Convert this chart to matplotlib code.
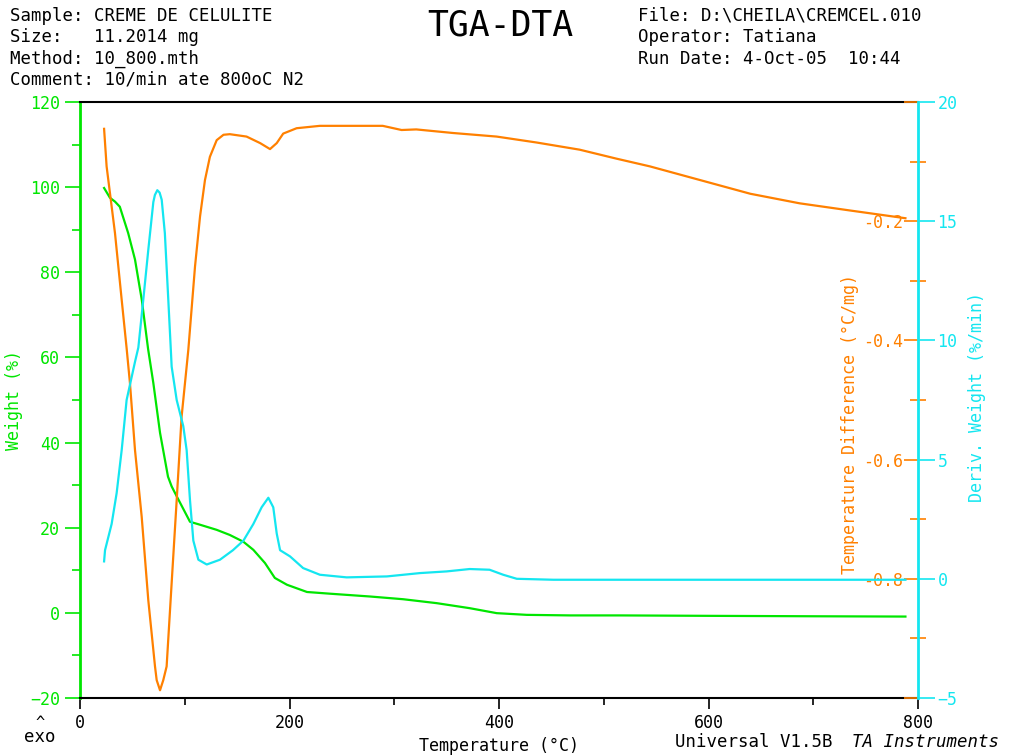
import matplotlib
matplotlib.use('Agg')
import matplotlib.pyplot as plt
from matplotlib.ticker import MultipleLocator

# kolory kanalow
GREEN = '#00e600'
ORANGE = '#ff8000'
CYAN = '#14e6f0'

# --- dane ---
weight_temp = [23, 28.6, 33.4, 38, 46, 52.5, 59, 65, 70, 76.4, 84, 87.5, 92.5, 105, 114.6,
               130.5, 143, 156, 165.5, 176.6, 186, 197.6, 216.7, 238.7, 277, 308.6, 340.5,
               372, 397.8, 426.5, 468, 515.5, 600, 700, 788]
weight_pct = [99.8, 97.5, 96.6, 95.4, 89.2, 83, 73.5, 62, 54, 42.3, 32, 29.7, 27.3, 21.4, 20.7,
              19.5, 18.3, 16.7, 14.8, 11.7, 8.2, 6.6, 4.9, 4.5, 3.84, 3.2, 2.28,
              1.1, -0.07, -0.47, -0.6, -0.6, -0.7, -0.8, -0.87]

dta_temp = [23, 25.4, 33.4, 39.8, 44.5, 47.7, 52.5, 58.9, 65.2, 71.6, 73.2, 76.4, 79.5,
            82.7, 87.5, 92.3, 97, 103.4, 109.8, 114.6, 119.3, 124, 130.5, 137, 143, 159,
            172, 181.4, 187.8, 194, 206.8, 229, 267, 289, 307, 321, 356, 397.7, 436,
            477, 512, 544, 592, 640, 687, 735, 788]
dta_diff = [-0.045, -0.108, -0.22, -0.332, -0.413, -0.472, -0.584, -0.696, -0.836, -0.947,
            -0.970, -0.987, -0.970, -0.947, -0.807, -0.668, -0.528, -0.416, -0.276, -0.192,
            -0.131, -0.092, -0.064, -0.055, -0.054, -0.058, -0.069, -0.079, -0.069, -0.053,
            -0.044, -0.040, -0.040, -0.040, -0.047, -0.046, -0.052, -0.058, -0.068, -0.080,
            -0.095, -0.108, -0.131, -0.154, -0.170, -0.182, -0.195]

dtg_temp = [23, 23.9, 30.2, 35, 39.8, 44.5, 52.5, 55.7, 60.4, 65.2, 70, 71.5, 73.8, 76,
            78, 81, 84.3, 86.6, 87.5, 92.3, 98.6, 101.8, 105, 108.2, 113, 121, 133.6,
            146, 156, 165.5, 173.4, 179.8, 184.5, 187.8, 191, 200.5, 213, 229, 254.6,
            293, 324.6, 350, 372, 391, 404, 417, 452, 515, 650, 788]
dtg_val = [0.73, 1.2, 2.3, 3.6, 5.4, 7.5, 9.1, 9.7, 11.7, 13.8, 15.8, 16.1, 16.3, 16.2,
           15.9, 14.5, 11.7, 9.7, 8.9, 7.5, 6.4, 5.4, 3.3, 1.6, 0.8, 0.6, 0.8,
           1.2, 1.6, 2.3, 3.0, 3.4, 3.0, 1.9, 1.2, 0.94, 0.45, 0.17, 0.06,
           0.1, 0.24, 0.31, 0.41, 0.38, 0.17, 0.0, -0.04, -0.04, -0.04, -0.04]

plt.rcParams['font.family'] = 'DejaVu Sans Mono'
plt.rcParams['font.size'] = 12

fig = plt.figure(figsize=(10.14, 7.55), dpi=100)
ax = fig.add_axes([80 / 1014, 1 - 698 / 755, 838 / 1014, 596 / 755])
ax2 = ax.twinx()
ax3 = ax.twinx()

# --- krzywe ---
ax.plot(weight_temp, weight_pct, color=GREEN, lw=1.6)
ax2.plot(dta_temp, dta_diff, color=ORANGE, lw=1.6)
ax3.plot(dtg_temp, dtg_val, color=CYAN, lw=1.6)

# --- os X ---
ax.set_xlim(0, 800)
ax.xaxis.set_major_locator(MultipleLocator(200))
ax.xaxis.set_minor_locator(MultipleLocator(100))
ax.tick_params(axis='x', which='major', length=8, width=1.2, colors='black', labelsize=12)
ax.tick_params(axis='x', which='minor', length=5, width=1.2, colors='black')
ax.set_xlabel('Temperature (°C)', fontsize=12)
ax.xaxis.set_label_coords(0.5, -0.065)

# --- os Weight (lewa) ---
ax.set_ylim(-20, 120)
ax.yaxis.set_major_locator(MultipleLocator(20))
ax.yaxis.set_minor_locator(MultipleLocator(10))
ax.tick_params(axis='y', which='major', length=11, width=1.2, colors=GREEN, labelsize=12)
ax.tick_params(axis='y', which='minor', length=6, width=1.2, colors=GREEN)
ax.set_ylabel('Weight (%)', color=GREEN, fontsize=12)
ax.yaxis.set_label_coords(-0.068, 0.50)
ax.spines['left'].set_color(GREEN)
ax.spines['left'].set_linewidth(2)
ax.spines['top'].set_color('black')
ax.spines['bottom'].set_color('black')
ax.spines['right'].set_visible(False)
for s in ['top', 'bottom']:
    ax.spines[s].set_linewidth(1.5)

# --- os Temperature Difference (etykiety po wewnetrznej stronie) ---
ax2.set_ylim(-1.0, 0.0)
ax2.yaxis.set_ticks_position('left')
ax2.yaxis.set_label_position('left')
ax2.spines['left'].set_position(('axes', 1.0))
for s in ['left', 'right', 'top', 'bottom']:
    ax2.spines[s].set_visible(False)
ax2.set_yticks([0.0, -0.2, -0.4, -0.6, -0.8, -1.0])
ax2.set_yticklabels(['', '-0.2', '-0.4', '-0.6', '-0.8', ''])
ax2.yaxis.set_minor_locator(MultipleLocator(0.1))
ax2.tick_params(axis='y', which='major', length=10, width=1.2, colors=ORANGE,
                labelsize=12, pad=1)
ax2.tick_params(axis='y', which='minor', direction='inout', length=11, width=1.2,
                colors=ORANGE)
ax2.set_ylabel('Temperature Difference (°C/mg)', color=ORANGE, fontsize=12)
ax2.yaxis.set_label_coords(0.929, 0.46)

# --- os Deriv. Weight (prawa) ---
ax3.set_ylim(-5, 20)
ax3.yaxis.set_major_locator(MultipleLocator(5))
ax3.tick_params(axis='y', which='major', length=12, width=1.2, colors=CYAN,
                labelsize=12, pad=2)
ax3.spines['right'].set_color(CYAN)
ax3.spines['right'].set_linewidth(2)
for s in ['left', 'top', 'bottom']:
    ax3.spines[s].set_visible(False)
ax3.set_ylabel('Deriv. Weight (%/min)', color=CYAN, fontsize=12)
ax3.yaxis.set_label_coords(1.060, 0.505)

# --- naglowek ---
left_lines = ['Sample: CREME DE CELULITE', 'Size:   11.2014 mg', 'Method: 10_800.mth',
              'Comment: 10/min ate 800oC N2']
right_lines = ['File: D:\\CHEILA\\CREMCEL.010', 'Operator: Tatiana',
               'Run Date: 4-Oct-05  10:44']
for i, t in enumerate(left_lines):
    fig.text(10 / 1014, 1 - (16 + i * 21.3) / 755, t, fontsize=12.5, va='center', ha='left')
for i, t in enumerate(right_lines):
    fig.text(638 / 1014, 1 - (16 + i * 21.3) / 755, t, fontsize=12.5, va='center', ha='left')
fig.text(500 / 1014, 1 - 25 / 755, 'TGA-DTA', fontsize=25, va='center', ha='center')

# --- stopka ---
fig.text(675 / 1014, 1 - 742 / 755, 'Universal V1.5B', fontsize=12.5, va='center', ha='left')
fig.text(852 / 1014, 1 - 742 / 755, 'TA Instruments', fontsize=12.5, va='center', ha='left',
         style='italic')
fig.text(40 / 1014, 1 - 722 / 755, '^', fontsize=11, va='center', ha='center')
fig.text(40 / 1014, 1 - 737 / 755, 'exo', fontsize=12.5, va='center', ha='center')

fig.savefig('out.png', dpi=100)
